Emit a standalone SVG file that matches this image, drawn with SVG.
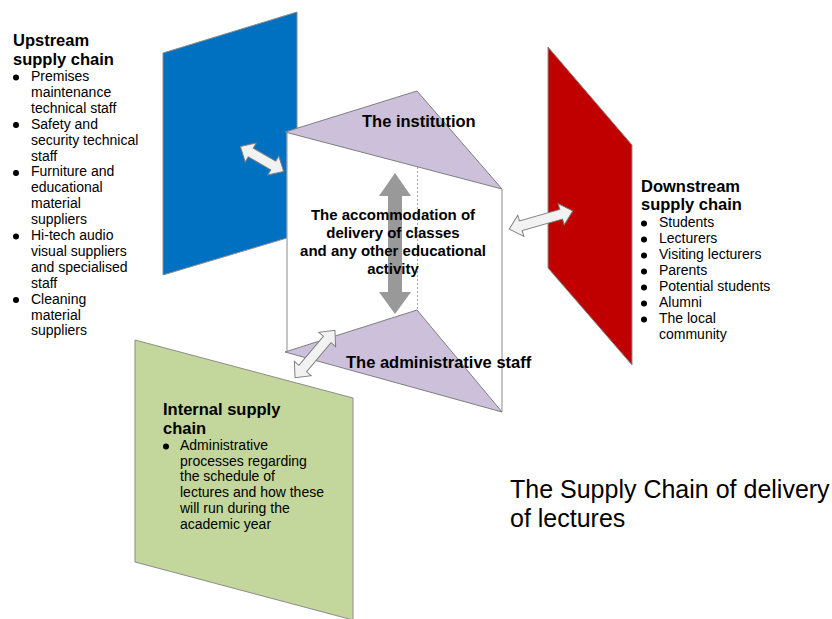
<svg xmlns="http://www.w3.org/2000/svg" width="832" height="619" viewBox="0 0 832 619">
<style>
.panel{stroke:#8c8c8c;stroke-width:1}
.tri{fill:#CCC0DA;stroke:#7f7f7f;stroke-width:1}
.face{fill:#ffffff;stroke:none}
.edge{stroke:#a6a6a6;stroke-width:1.3;fill:none}
.h{font-family:"Liberation Sans",Arial,sans-serif;font-weight:bold;font-size:16.5px;fill:#000}
.b{font-family:"Liberation Sans",Arial,sans-serif;font-size:14px;fill:#000}
.lbl{font-family:"Liberation Sans",Arial,sans-serif;font-weight:bold;font-size:16.5px;fill:#000}
.ctr{font-family:"Liberation Sans",Arial,sans-serif;font-weight:bold;font-size:15px;fill:#000;text-anchor:middle}
.title{font-family:"Liberation Sans",Arial,sans-serif;font-size:25px;fill:#000}
.wa{fill:#F2F2F2;stroke:#7f7f7f;stroke-width:1}
</style>
<rect width="832" height="619" fill="#ffffff"/>

<g id="upstream">
<polygon class="panel" fill="#0070C0" points="163,53 297,12 297,235 163,275"/>
<text class="h" x="13" y="46">Upstream</text>
<text class="h" x="13" y="64.5">supply chain</text>
<g fill="#000">
<circle cx="16" cy="77.5" r="3"/><circle cx="16" cy="125" r="3"/><circle cx="16" cy="173" r="3"/><circle cx="16" cy="236.5" r="3"/><circle cx="16" cy="300" r="3"/>
</g>
<text class="b" x="31" y="81">Premises</text>
<text class="b" x="31" y="97">maintenance</text>
<text class="b" x="31" y="112.8">technical staff</text>
<text class="b" x="31" y="128.7">Safety and</text>
<text class="b" x="31" y="144.6">security technical</text>
<text class="b" x="31" y="160.5">staff</text>
<text class="b" x="31" y="176.4">Furniture and</text>
<text class="b" x="31" y="192.3">educational</text>
<text class="b" x="31" y="208.2">material</text>
<text class="b" x="31" y="224.1">suppliers</text>
<text class="b" x="31" y="240">Hi-tech audio</text>
<text class="b" x="31" y="255.9">visual suppliers</text>
<text class="b" x="31" y="271.8">and specialised</text>
<text class="b" x="31" y="287.7">staff</text>
<text class="b" x="31" y="303.6">Cleaning</text>
<text class="b" x="31" y="319.5">material</text>
<text class="b" x="31" y="335.4">suppliers</text>
</g>

<g id="internal">
<polygon class="panel" fill="#C3D69B" points="135,340 353,398 353,620 135,562"/>
<text class="h" x="163" y="415">Internal supply</text>
<text class="h" x="163" y="433.5">chain</text>
<circle cx="166" cy="446.5" r="3" fill="#000"/>
<text class="b" x="180" y="450">Administrative</text>
<text class="b" x="180" y="465.7">processes regarding</text>
<text class="b" x="180" y="481.4">the schedule of</text>
<text class="b" x="180" y="497.1">lectures and how these</text>
<text class="b" x="180" y="512.8">will run during the</text>
<text class="b" x="180" y="528.5">academic year</text>
</g>

<g id="downstream">
<polygon class="panel" fill="#C00000" points="548,47 632,145 632,365 548,268"/>
<text class="h" x="641" y="191.5">Downstream</text>
<text class="h" x="641" y="210">supply chain</text>
<g fill="#000">
<circle cx="644" cy="223.5" r="3"/><circle cx="644" cy="239.5" r="3"/><circle cx="644" cy="255.5" r="3"/><circle cx="644" cy="271.5" r="3"/><circle cx="644" cy="287.5" r="3"/><circle cx="644" cy="303.5" r="3"/><circle cx="644" cy="319.5" r="3"/>
</g>
<text class="b" x="659" y="227">Students</text>
<text class="b" x="659" y="243">Lecturers</text>
<text class="b" x="659" y="259">Visiting lecturers</text>
<text class="b" x="659" y="275">Parents</text>
<text class="b" x="659" y="291">Potential students</text>
<text class="b" x="659" y="307">Alumni</text>
<text class="b" x="659" y="323">The local</text>
<text class="b" x="659" y="339">community</text>
</g>

<g id="prism">
<polygon class="face" points="287,132 502,189 502,412 287,352"/>
<line class="edge" x1="287" y1="132" x2="287" y2="352"/>
<line class="edge" x1="502" y1="189" x2="502" y2="412"/>
<line x1="417.5" y1="167" x2="417.5" y2="310" stroke="#a6a6a6" stroke-width="1" stroke-dasharray="2,2"/>
</g>

<g id="institution">
<polygon class="tri" points="285,132 417,91 502,189"/>
<text class="lbl" x="362" y="127">The institution</text>
</g>

<g id="admin">
<polygon class="tri" points="285,352 417,310 502,412"/>
<text class="lbl" x="346" y="368">The administrative staff</text>
</g>

<g id="connectors">
<polygon fill="#999999" points="395,173 411,196 402,196 402,292 411,292 395,314 379,292 388,292 388,196 379,196"/>
<path class="wa" transform="translate(262,159) rotate(30)" d="M -25,0 L -13,-11 L -13,-5 L 13,-5 L 13,-11 L 25,0 L 13,11 L 13,5 L -13,5 L -13,11 Z"/>
<path class="wa" transform="translate(541,220) rotate(-16)" d="M -33,0 L -21,-11 L -21,-5 L 21,-5 L 21,-11 L 33,0 L 21,11 L 21,5 L -21,5 L -21,11 Z"/>
<path class="wa" transform="translate(315,354) rotate(-50)" d="M -31,0 L -19,-11 L -19,-5 L 19,-5 L 19,-11 L 31,0 L 19,11 L 19,5 L -19,5 L -19,11 Z"/>
</g>

<g id="center-text">
<text class="ctr" x="393" y="220">The accommodation of</text>
<text class="ctr" x="393" y="237.5">delivery of classes</text>
<text class="ctr" x="393" y="256">and any other educational</text>
<text class="ctr" x="393" y="274">activity</text>
</g>

<g id="title">
<text class="title" x="510" y="498">The Supply Chain of delivery</text>
<text class="title" x="510" y="527">of lectures</text>
</g>
</svg>
